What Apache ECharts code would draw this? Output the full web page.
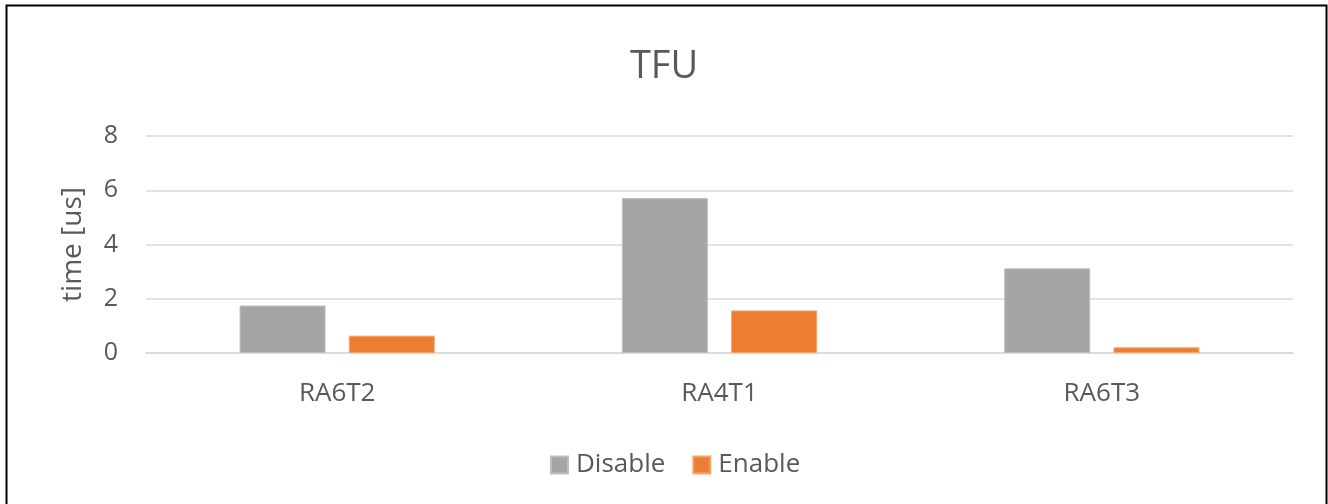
<!DOCTYPE html>
<html>
<head>
<meta charset="utf-8">
<script src="https://cdn.jsdelivr.net/npm/echarts@6/dist/echarts.min.js"></script>
<style>
html,body{margin:0;padding:0;background:#fff;}
#chart{width:1328px;height:504px;}
</style>
</head>
<body>
<div id="chart"></div>
<script>
var categories = ['RA6T2', 'RA4T1', 'RA6T3'];
var disableValues = [1.75, 5.71, 3.12];
var enableValues = [0.64, 1.57, 0.21];
var yTicks = [0, 2, 4, 6, 8];

var font = '"Open Sans", "Noto Sans", sans-serif';
var chart = echarts.init(document.getElementById('chart'), null, {renderer: 'canvas'});
chart.setOption({
  animation: false,
  backgroundColor: '#ffffff',
  textStyle: {fontFamily: font},
  title: {
    text: 'TFU',
    left: 'center',
    top: 43,
    textStyle: {fontFamily: font, fontSize: 38, fontWeight: 'normal', color: '#595959'}
  },
  graphic: [{
    type: 'rect',
    shape: {x: 6.5, y: 5.5, width: 1320, height: 520},
    style: {fill: 'none', stroke: '#000', lineWidth: 2},
    silent: true
  }],
  legend: {
    data: ['Disable', 'Enable'],
    top: 447,
    left: 545,
    icon: 'rect',
    itemWidth: 17,
    itemHeight: 17,
    itemGap: 27,
    textStyle: {fontFamily: font, fontSize: 26, color: '#595959', padding: [0, 0, 0, 3]}
  },
  grid: {left: 146, right: 35, top: 136, bottom: 151, containLabel: false},
  xAxis: {
    type: 'category',
    data: categories,
    axisLine: {show: true, lineStyle: {color: '#d9d9d9', width: 1.5}},
    axisTick: {show: false},
    axisLabel: {fontFamily: font, fontSize: 26, color: '#595959', margin: 28}
  },
  yAxis: {
    type: 'value',
    min: yTicks[0],
    max: yTicks[yTicks.length - 1],
    interval: 2,
    name: 'time [us]',
    nameLocation: 'middle',
    nameGap: 59,
    nameRotate: 90,
    nameTextStyle: {fontFamily: font, fontSize: 28, color: '#595959'},
    axisLine: {show: false},
    axisTick: {show: false},
    axisLabel: {fontFamily: font, fontSize: 25, color: '#595959', margin: 28},
    splitLine: {lineStyle: {color: '#d9d9d9', width: 1.5}}
  },
  series: [
    {
      name: 'Disable',
      type: 'bar',
      data: disableValues,
      barWidth: 86,
      barGap: '27%',
      itemStyle: {color: '#a5a5a5', borderColor: '#bdbdbd', borderWidth: 1}
    },
    {
      name: 'Enable',
      type: 'bar',
      data: enableValues,
      barWidth: 86,
      barGap: '27%',
      itemStyle: {color: '#ed7d31', borderColor: '#f4a46f', borderWidth: 1}
    }
  ]
});
</script>
</body>
</html>
